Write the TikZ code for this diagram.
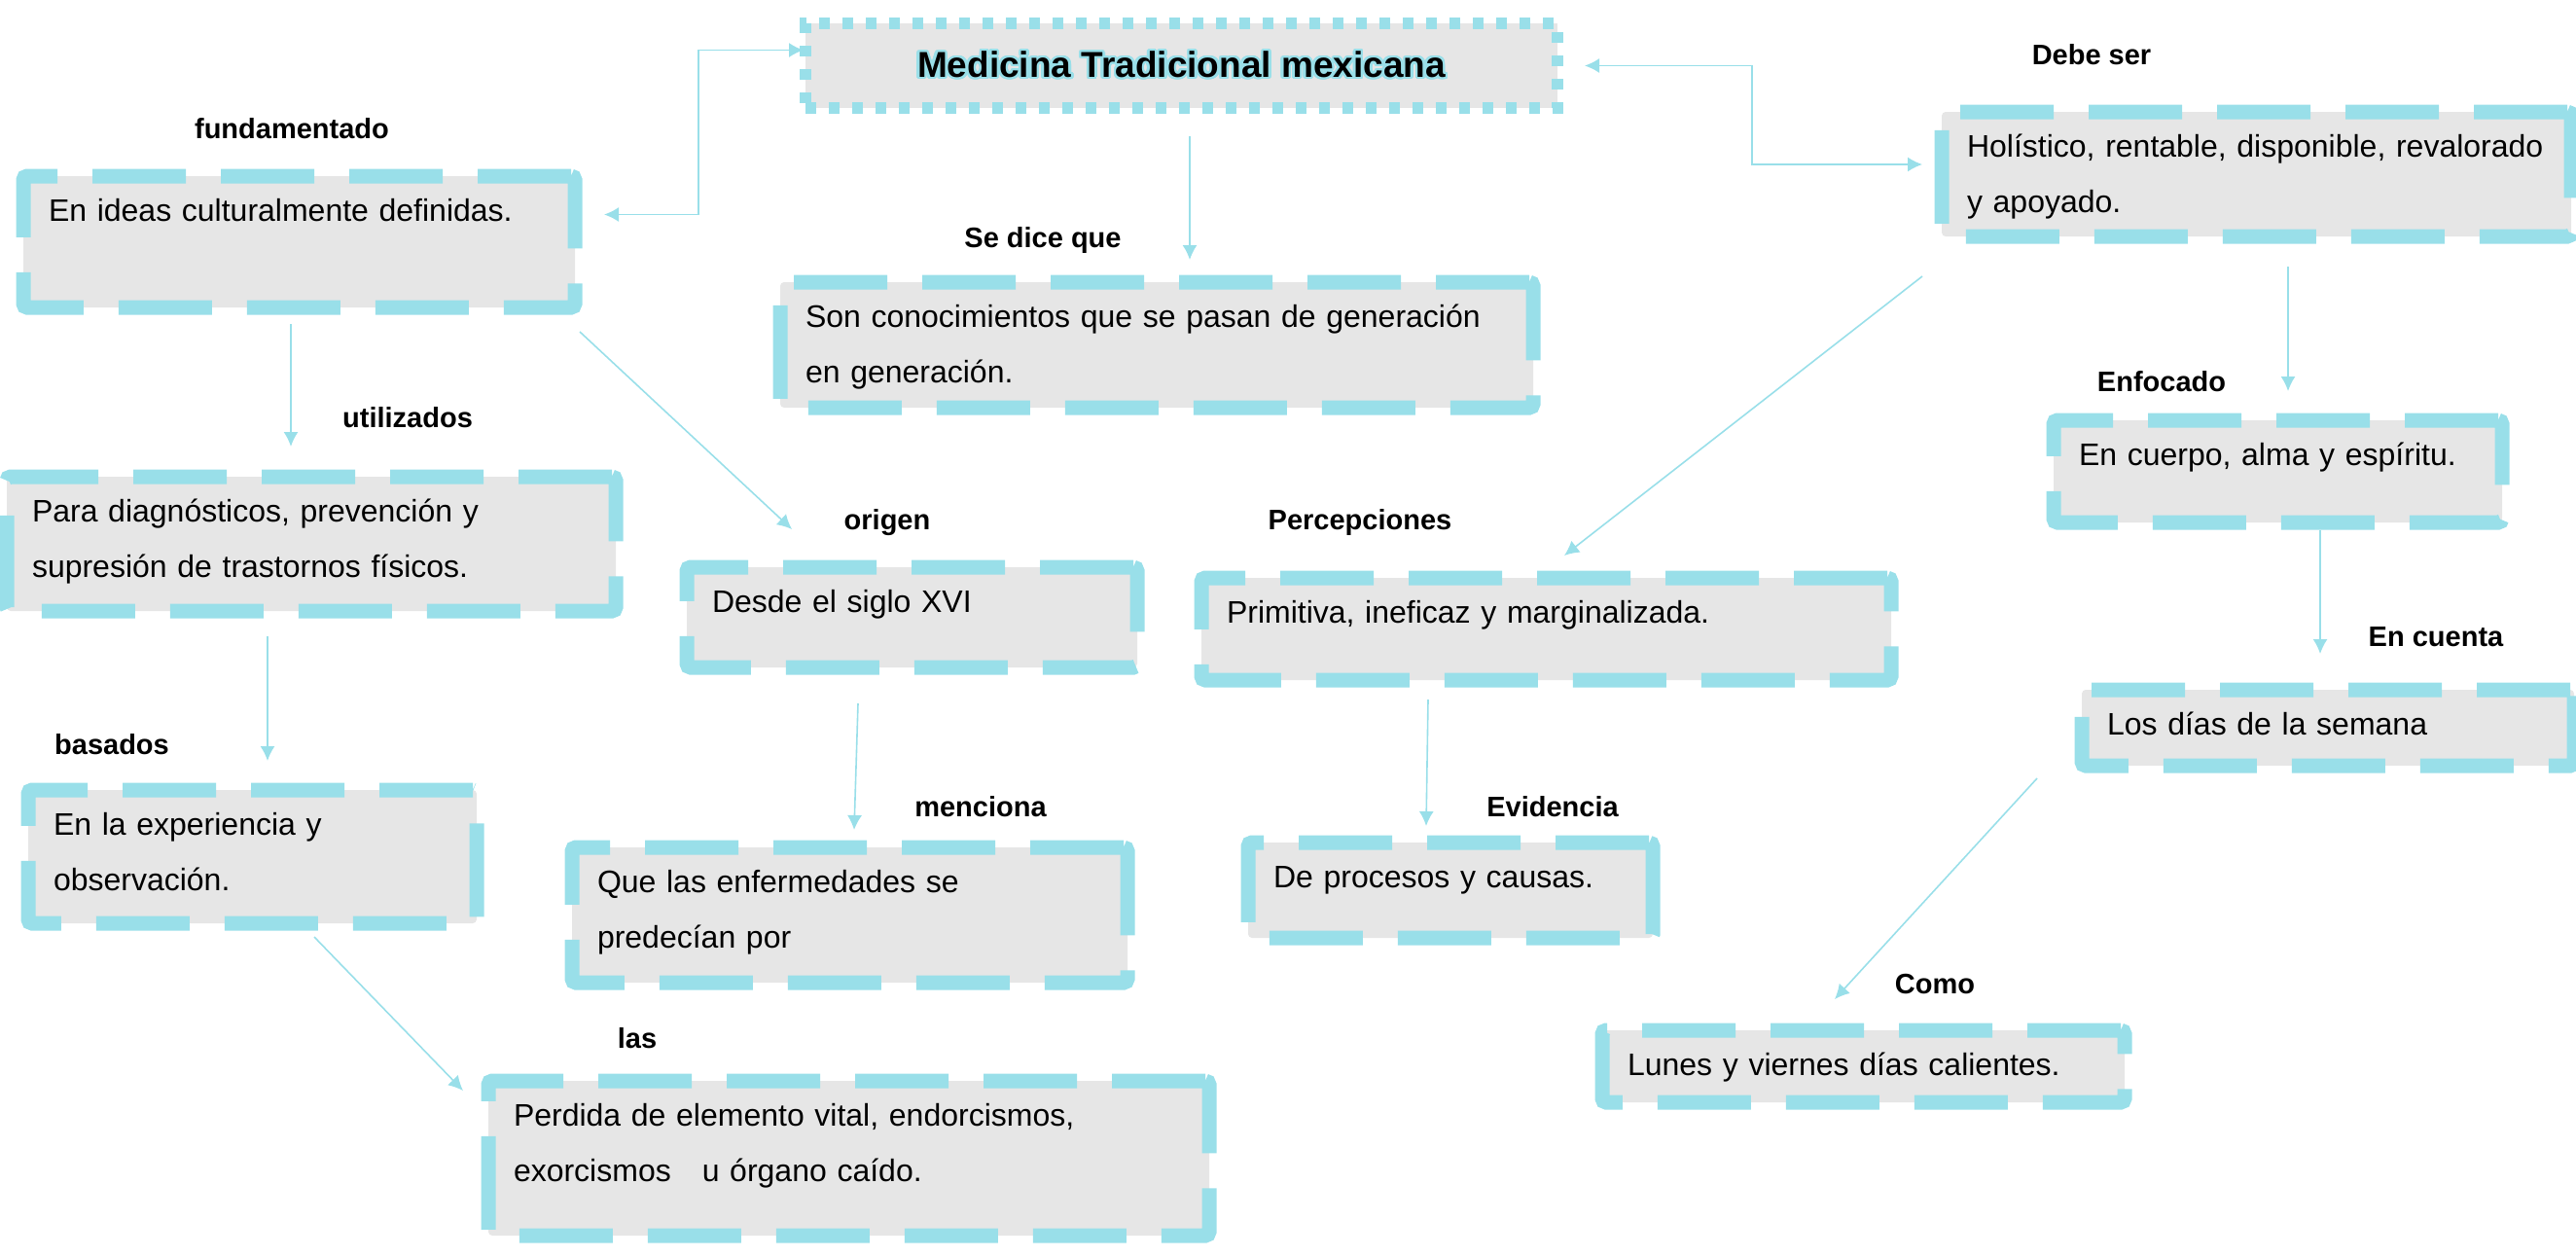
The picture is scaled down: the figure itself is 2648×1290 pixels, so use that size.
\documentclass[tikz,border=0pt]{standalone}
\usepackage{fontspec}
\setmainfont{Liberation Sans}
\usepackage{xcolor}
\usepackage{contour}
\usepackage{tikz}
\usetikzlibrary{arrows.meta}

\definecolor{celeste}{HTML}{99DFE9}
\definecolor{gris}{HTML}{E6E6E6}
\contourlength{1.2pt}
\contournumber{24}

\newcommand{\textocaja}{\fontsize{16}{28.5}\selectfont}
\newcommand{\textoetiqueta}{\fontsize{14.5}{17}\selectfont\bfseries}
\newcommand{\textotitulo}{\fontsize{18.5}{22}\selectfont\bfseries}

\tikzset{
	caja/.style={draw=celeste, fill=gris, line width=7.5pt, dash pattern=on 48pt off 18pt,
		rounded corners=2pt, outer sep=0pt, anchor=north west, align=left,
		inner xsep=13pt, inner ysep=10pt, text height=13pt, font=\textocaja},
	titulobox/.style={draw=celeste, fill=gris, line width=6pt, dash pattern=on 5.5pt off 6.5pt,
		outer sep=0pt, minimum width=386.5pt, minimum height=43.5pt, font=\textotitulo},
	etiqueta/.style={font=\textoetiqueta},
	conector/.style={draw=celeste, line width=0.8pt}
}

\begin{document}
\begin{tikzpicture}[x=0.5pt, y=-0.5pt, >={Latex[length=7.5pt,width=7.5pt]}]
	  \useasboundingbox (0,0) rectangle (2648,1290);
	  \node[titulobox] (titulo) at (1214.5,67.5) {\contour{celeste}{Medicina Tradicional mexicana}};
	  \node[caja, text width=257.5pt, text depth=34.5pt] (ideas) at (24,181) {En ideas culturalmente definidas.};
	  \node[caja, text width=297.5pt, text depth=31pt] (holistico) at (1996,115) {Holístico, rentable, disponible, revalorado\\y apoyado.};
	  \node[caja, text width=361pt, text depth=31.5pt] (generacion) at (802,290) {Son conocimientos que se pasan de generación\\en generación.};
	  \node[caja, text width=287pt, text depth=36pt] (diag) at (7,490) {Para diagnósticos, prevención y\\supresión de trastornos físicos.};
	  \node[caja, text width=205.5pt, text depth=18.5pt] (siglo) at (706,583) {Desde el siglo XVI};
	  \node[caja, text width=328.5pt, text depth=19.5pt] (primitiva) at (1235,594) {Primitiva, ineficaz y marginalizada.};
	  \node[caja, text width=204.5pt, text depth=19.5pt] (cuerpo) at (2111,432) {En cuerpo, alma y espíritu.};
	  \node[caja, text width=227pt, text depth=6pt] (semana) at (2140,709) {Los días de la semana};
	  \node[caja, text width=204.5pt, text depth=35.5pt] (experiencia) at (29,812) {En la experiencia y\\observación.};
	  \node[caja, text width=259.5pt, text depth=36.5pt] (enfermedades) at (588,871) {Que las enfermedades se\\predecían por};
	  \node[caja, text width=182pt, text depth=16pt] (procesos) at (1283,866) {De procesos y causas.};
	  \node[caja, text width=242.5pt, text depth=4pt] (lunes) at (1647,1059) {Lunes y viernes días calientes.};
	  \node[caja, text width=344.5pt, text depth=46.5pt] (perdida) at (502,1111) {Perdida de elemento vital, endorcismos,\\exorcismos\ \ \ u órgano caído.};

	  \node[etiqueta] (e-fundamentado) at (300,132) {fundamentado};
	  \node[etiqueta] (e-debe) at (2150,56) {Debe ser};
	  \node[etiqueta] (e-dice) at (1072,247) {Se dice que};
	  \node[etiqueta] (e-utilizados) at (419,429) {utilizados};
	  \node[etiqueta] (e-origen) at (912,537) {origen};
	  \node[etiqueta] (e-percepciones) at (1398,537) {Percepciones};
	  \node[etiqueta] (e-enfocado) at (2222,392) {Enfocado};
	  \node[etiqueta] (e-cuenta) at (2504,655) {En cuenta};
	  \node[etiqueta] (e-basados) at (115,765) {basados};
	  \node[etiqueta] (e-menciona) at (1008,829) {menciona};
	  \node[etiqueta] (e-evidencia) at (1596,829) {Evidencia};
	  \node[etiqueta] (e-como) at (1989,1012) {Como};
	  \node[etiqueta] (e-las) at (655,1067) {las};

	  \draw[conector,<->] ([xshift=-1pt,yshift=8pt]titulo.west) -- ++(-54pt,0pt) |- ([xshift=15pt,yshift=14pt]ideas.east);
	  \draw[conector,<->] ([xshift=14pt]titulo.east) -- ++(86pt,0pt) |- ([xshift=-10pt,yshift=5pt]holistico.west);
	  \draw[conector,->] ([xshift=4.25pt,yshift=-14.5pt]titulo.south) -- ([xshift=17pt,yshift=11.5pt]generacion.north);
	  \draw[conector,->] ([xshift=-4.25pt,yshift=-8.5pt]ideas.south) -- ([xshift=-10.5pt,yshift=15.5pt]diag.north);
	  \draw[conector,->] ([xshift=2.5pt,yshift=-12.5pt]ideas.south east) -- ([xshift=54pt,yshift=19.5pt]siglo.north west);
	  \draw[conector,->] ([xshift=-10pt,yshift=-20.5pt]holistico.south west) -- ([xshift=9.25pt,yshift=11.5pt]primitiva.north);
	  \draw[conector,->] ([xshift=16.25pt,yshift=-15.5pt]holistico.south) -- ([xshift=5.25pt,yshift=15pt]cuerpo.north);
	  \draw[conector,->] ([xshift=21.75pt,yshift=-4pt]cuerpo.south) -- ([xshift=-4pt,yshift=18.5pt]semana.north);
	  \draw[conector,->] ([xshift=-22.5pt,yshift=-13pt]diag.south) -- ([xshift=7.75pt,yshift=15pt]experiencia.north);
	  \draw[conector,->] ([xshift=-27.75pt,yshift=-18.5pt]siglo.south) -- ([xshift=2.25pt,yshift=9pt]enfermedades.north);
	  \draw[conector,->] ([xshift=-60.75pt,yshift=-10pt]primitiva.south) -- ([xshift=-12.5pt,yshift=8.5pt]procesos.north);
	  \draw[conector,->] ([xshift=-23pt,yshift=-6.5pt]semana.south west) -- ([xshift=-14.75pt,yshift=16pt]lunes.north);
	  \draw[conector,->] ([xshift=31.75pt,yshift=-7pt]experiencia.south) -- ([xshift=-13pt,yshift=-5pt]perdida.north west);
	\end{tikzpicture}
\end{document}
